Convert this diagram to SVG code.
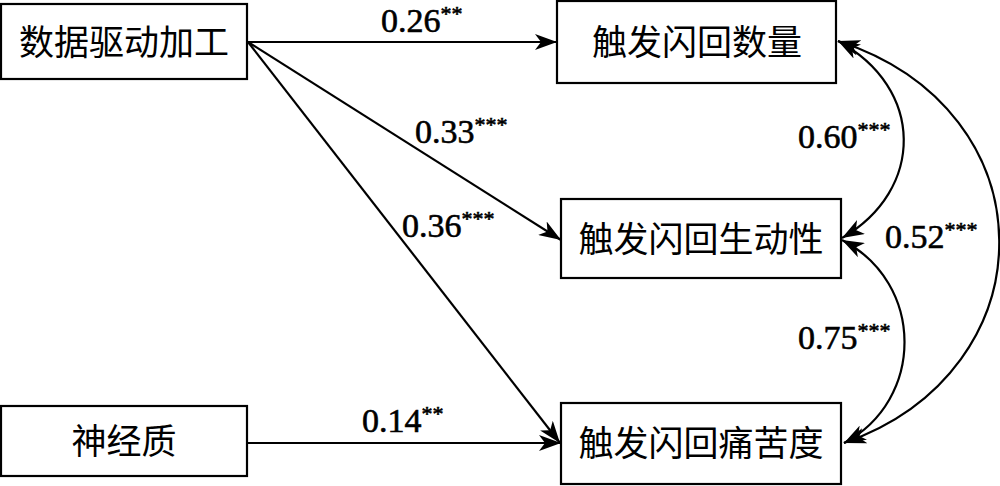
<svg xmlns="http://www.w3.org/2000/svg" width="1000" height="486" viewBox="0 0 1000 486">
<style>
.box{fill:#fff;stroke:#000;stroke-width:2.2}
.lbl{font-family:'Noto Sans CJK SC',sans-serif;font-size:35px;fill:#000;text-anchor:middle}
.num{font-family:'Liberation Serif','Times New Roman','DejaVu Serif',serif;font-size:34px;fill:#000;stroke:#000;stroke-width:0.6}
.sup{font-size:22px}
.edge{fill:none;stroke:#000;stroke-width:2.2}
</style>
<defs>
<marker id="ah" viewBox="0 0 22 16" refX="22" refY="8" markerWidth="22" markerHeight="16" markerUnits="userSpaceOnUse" orient="auto-start-reverse">
<path d="M0,0 L22,8 L0,16 L6,8 Z" fill="#000"/>
</marker>
</defs>
<rect width="1000" height="486" fill="#fff"/>
<g id="connectors">
<line class="edge" x1="248" y1="42" x2="557" y2="42" marker-end="url(#ah)"/>
<line class="edge" x1="248" y1="42" x2="561" y2="240" marker-end="url(#ah)"/>
<line class="edge" x1="248" y1="42" x2="560" y2="443" marker-end="url(#ah)"/>
<line class="edge" x1="248" y1="443" x2="561" y2="443" marker-end="url(#ah)"/>
<path class="edge" d="M838,41 C925,88 925,190 842,238" marker-start="url(#ah)" marker-end="url(#ah)"/>
<path class="edge" d="M842,240 C925,283 925,400 844,443" marker-start="url(#ah)" marker-end="url(#ah)"/>
<path class="edge" d="M838,41 C1052,110 1052,370 844,443" marker-start="url(#ah)" marker-end="url(#ah)"/>
<text class="num" x="381" y="32">0.26<tspan class="sup" dy="-11">**</tspan></text>
<text class="num" x="415" y="143">0.33<tspan class="sup" dy="-11">***</tspan></text>
<text class="num" x="402" y="237">0.36<tspan class="sup" dy="-11">***</tspan></text>
<text class="num" x="362" y="432">0.14<tspan class="sup" dy="-11">**</tspan></text>
<text class="num" x="798" y="148">0.60<tspan class="sup" dy="-11">***</tspan></text>
<text class="num" x="885" y="248">0.52<tspan class="sup" dy="-11">***</tspan></text>
<text class="num" x="798" y="349">0.75<tspan class="sup" dy="-11">***</tspan></text>
</g>
<g id="n1"><rect class="box" x="1" y="4" width="246" height="75"/><text class="lbl" x="124" y="55">数据驱动加工</text></g>
<g id="n2"><rect class="box" x="1" y="406" width="246" height="70"/><text class="lbl" x="124" y="454">神经质</text></g>
<g id="n3"><rect class="box" x="557" y="1" width="279" height="82"/><text class="lbl" x="697" y="55">触发闪回数量</text></g>
<g id="n4"><rect class="box" x="561" y="199" width="280" height="79"/><text class="lbl" x="701" y="252">触发闪回生动性</text></g>
<g id="n5"><rect class="box" x="561" y="403" width="280" height="81"/><text class="lbl" x="701" y="456">触发闪回痛苦度</text></g>
</svg>
